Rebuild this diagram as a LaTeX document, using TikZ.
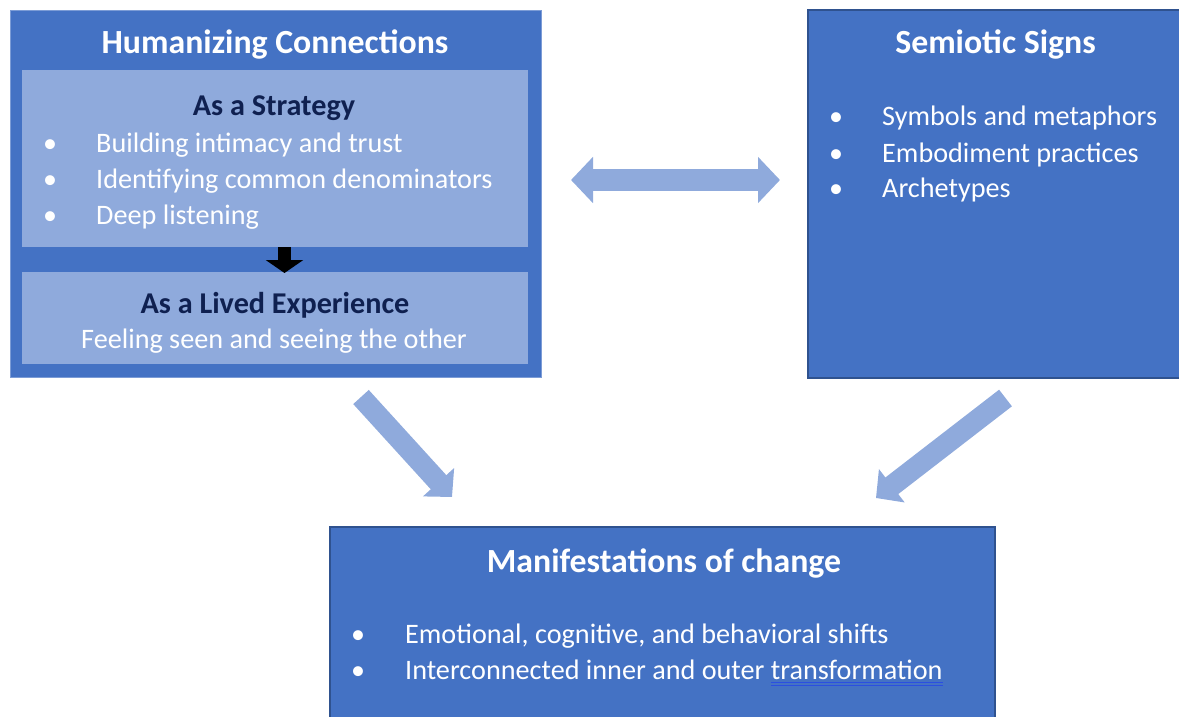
\documentclass[tikz,border=0pt]{standalone}
\usepackage{fontspec}
\setmainfont{Carlito}
\usetikzlibrary{arrows.meta}

\definecolor{boxblue}{HTML}{4472C4}
\definecolor{paleblue}{HTML}{8FAADC}
\definecolor{edgeblue}{HTML}{2F528F}
\definecolor{navy}{HTML}{0F2050}
\definecolor{spellblue}{HTML}{2B4FE0}

% word with a blue double mark under it
\newcommand\spellmark[1]{\setbox0\hbox{#1}%
  \rlap{\textcolor{spellblue}{\rule[-4.2pt]{\wd0}{0.9pt}}}%
  \rlap{\textcolor{spellblue}{\rule[-6.4pt]{\wd0}{0.9pt}}}\box0}

\tikzset{
  bigbox/.style={fill=boxblue, draw=edgeblue, line width=1.2pt, inner sep=0pt},
  innerbox/.style={fill=paleblue, draw=none, inner sep=0pt},
  headline/.style={anchor=base, text=white, font=\fontsize{33.8}{40}\selectfont\bfseries},
  subhead/.style={anchor=base, text=navy, font=\fontsize{30.2}{36}\selectfont\bfseries},
  item/.style={anchor=base west, text=white, font=\fontsize{28.2}{36}\selectfont, inner sep=0pt},
  dot/.style={anchor=base, text=white, font=\fontsize{28}{36}\selectfont, inner sep=0pt},
  blockarrow/.style={draw=paleblue, line width=21pt, -{Triangle[length=20pt,width=41pt]}},
}

\begin{document}
\begin{tikzpicture}[x=1pt, y=-1pt]
\useasboundingbox (0,0) rectangle (1179,716);

% Humanizing Connections
\draw[fill=boxblue, draw=boxblue!70!white, line width=0.6pt] (10,10) rectangle (541,377);
\node[headline] (hcTitle) at (275,53) {Humanizing Connections};
\draw[innerbox] (22,70) rectangle (528,247);
\node[subhead] (strategy) at (274,115) {As a Strategy};
\node[dot] (s1dot) at (50,152) {\textbullet};
\node[item] (s1) at (96,152) {Building intimacy and trust};
\node[dot] (s2dot) at (50,188) {\textbullet};
\node[item] (s2) at (96,188) {Identifying common denominators};
\node[dot] (s3dot) at (50,224) {\textbullet};
\node[item] (s3) at (96,224) {Deep listening};
\draw[innerbox] (22,272) rectangle (528,364);
\node[subhead] (lived) at (275,313) {As a Lived Experience};
\node[anchor=base, text=white, font=\fontsize{28.2}{36}\selectfont] (seen) at (274,348) {Feeling seen and seeing the other};
\coordinate (stratEnd) at (284.5,247);
\coordinate (livedTop) at (284.5,273);
\draw[black, line width=12.5pt, -{Triangle[length=13pt,width=37pt]}] (stratEnd) -- (livedTop);

% Semiotic Signs
\draw[bigbox] (808,10) rectangle (1195,378);
\node[headline] (ssTitle) at (995.5,53) {Semiotic Signs};
\node[dot] (m1dot) at (836,125) {\textbullet};
\node[item] (m1) at (882,125) {Symbols and metaphors};
\node[dot] (m2dot) at (836,162) {\textbullet};
\node[item] (m2) at (882,162) {Embodiment practices};
\node[dot] (m3dot) at (836,197) {\textbullet};
\node[item] (m3) at (882,197) {Archetypes};

% Manifestations of change
\draw[bigbox] (330,527) rectangle (995,730);
\node[headline] (mcTitle) at (664,572) {Manifestations of change};
\node[dot] (c1dot) at (358,643) {\textbullet};
\node[item] (c1) at (405,643) {Emotional, cognitive, and behavioral shifts};
\node[dot] (c2dot) at (358,679) {\textbullet};
\node[item] (c2) at (405,679) {Interconnected inner and outer \spellmark{transformation}};

% arrows between the boxes
\coordinate (hcOut) at (361,397);
\coordinate (mcInLeft) at (452,497);
\coordinate (ssOut) at (1005.5,398);
\coordinate (mcInRight) at (876,498);
\coordinate (linkLeft) at (571,180);
\coordinate (linkRight) at (780,180);
\draw[draw=paleblue, line width=22.5pt, {Triangle[length=22pt,width=45pt]}-{Triangle[length=22pt,width=45pt]}] (linkLeft) -- (linkRight);
\draw[blockarrow] (hcOut) -- (mcInLeft);
\draw[blockarrow] (ssOut) -- (mcInRight);
\end{tikzpicture}
\end{document}
